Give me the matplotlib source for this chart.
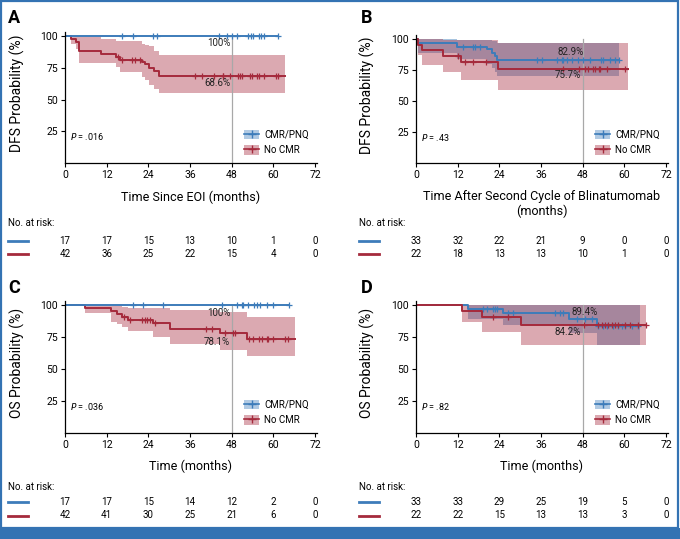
import matplotlib
matplotlib.use("Agg")
import matplotlib.pyplot as plt
from matplotlib.patches import Patch, Rectangle
from matplotlib.lines import Line2D
from matplotlib.transforms import blended_transform_factory
from matplotlib import font_manager

# ---------------------------------------------------------------- police
names = {f.name for f in font_manager.fontManager.ttflist}
main_font = "Liberation Sans Narrow" if "Liberation Sans Narrow" in names else "Roboto"
plt.rcParams["font.family"] = [main_font, "DejaVu Sans"]

BLUE = "#3d7cba"
RED = "#a52a3c"
FRAME = "#3473b3"

# ---------------------------------------------------------------- données
risk_times = [0, 12, 24, 36, 48, 60, 72]

# A : DFS depuis EOI
a_blue_t = [0, 61.4]
a_blue_s = [100, 100]
a_blue_c = [16.3, 19.5, 25.3, 26.4, 44.4, 46.6, 48.0, 49.4, 52.8, 53.5, 54.2, 56.0, 56.4, 57.3, 61.4]
a_red_t = [0, 1.7, 3.1, 4.0, 10.3, 14.7, 15.8, 22.1, 23.1, 24.3, 25.7, 27.1, 63.4]
a_red_s = [100, 97.6, 95.2, 88.1, 85.7, 83.3, 81.0, 79.3, 77.6, 75.2, 72.4, 68.6, 68.6]
a_red_hi = [100, 100, 100, 99, 98, 95.8, 95.8, 94, 93, 91.9, 88.4, 85.3, 85.3]
a_red_lo = [100, 94, 90, 79, 79, 75.8, 72, 68, 65.4, 61.5, 58.5, 55.5, 55.5]
a_red_c = [15.2, 16.4, 19.2, 20.2, 21.6, 37.4, 39.4, 42.9, 45.4, 45.6, 47.5, 49.9, 50.4, 50.9,
           53.3, 54.0, 55.4, 55.8, 57.4, 60.8, 61.4]
a_risk_blue = [17, 17, 15, 13, 10, 1, 0]
a_risk_red = [42, 36, 25, 22, 15, 4, 0]

# B : DFS après le 2e cycle
b_blue_t = [0, 0.5, 11.7, 20.4, 21.8, 22.8, 23.4, 58.6]
b_blue_s = [100, 97.0, 93.9, 91.7, 89.0, 86.3, 82.9, 82.9]
b_blue_hi = [100, 100, 99.5, 99, 98.5, 98, 97, 97]
b_blue_lo = [100, 89, 84, 80, 77, 73.5, 70, 70]
b_blue_c = [13.6, 16.5, 17.0, 18.4, 34.8, 36.2, 40.5, 42.0, 42.4, 43.4, 45.0, 46.7, 48.2,
            50.1, 53.2, 53.9, 55.9, 57.3, 58.6]
b_red_t = [0, 0.6, 1.6, 7.7, 12.9, 23.7, 61.2]
b_red_s = [100, 95.5, 90.9, 86.4, 81.8, 75.7, 75.7]
b_red_hi = [100, 100, 100, 99.5, 99, 97, 97]
b_red_lo = [100, 87, 79, 73.5, 67, 59, 59]
b_red_c = [12.1, 14.1, 16.5, 20.2, 42.2, 47.0, 48.7, 49.6, 50.9, 51.6, 52.7, 53.0, 54.9, 60.2]
b_risk_blue = [33, 32, 22, 21, 9, 0, 0]
b_risk_red = [22, 18, 13, 13, 10, 1, 0]

# C : OS
c_blue_t = [0, 64.6]
c_blue_s = [100, 100]
c_blue_c = [19.5, 22.6, 28.3, 45.1, 49.4, 50.9, 51.4, 52.8, 54.5, 55.2, 56.2, 58.1, 60.0, 64.6]
c_red_t = [0, 5.8, 13.2, 14.9, 16.3, 18.2, 25.4, 30.2, 44.6, 52.3, 66.2]
c_red_s = [100, 97.6, 95.2, 92.9, 90.5, 88.1, 85.6, 81.4, 78.1, 73.1, 73.1]
c_red_hi = [100, 100, 99, 99, 98.5, 98, 97.6, 96, 94.5, 90.5, 90.5]
c_red_lo = [100, 94, 87, 85, 82.7, 79.4, 74.8, 69.5, 65, 59.9, 59.9]
c_red_c = [17.1, 18.6, 22.1, 23.0, 23.7, 24.5, 25.9, 40.5, 42.2, 46.1, 48.5, 49.0, 53.0, 54.2,
           55.9, 56.8, 58.1, 58.6, 60.0, 63.4, 64.3]
c_risk_blue = [17, 17, 15, 14, 12, 2, 0]
c_risk_red = [42, 41, 30, 25, 21, 6, 0]

# D : OS après le 2e cycle
d_blue_t = [0, 15.1, 25.2, 44.2, 52.0, 64.5]
d_blue_s = [100, 97.0, 93.9, 89.4, 83.3, 83.3]
d_blue_hi = [100, 100, 100, 100, 100, 100]
d_blue_lo = [100, 89, 84.5, 78, 68.5, 68.5]
d_blue_c = [19.4, 20.4, 22.1, 22.8, 23.4, 26.6, 28.0, 40.0, 41.5, 42.4, 46.3, 48.7, 50.6,
            52.5, 53.9, 54.9, 56.8, 58.3, 59.2, 60.2, 62.1, 64.0]
d_red_t = [0, 13.2, 18.9, 30.2, 66.2]
d_red_s = [100, 95.5, 90.9, 84.2, 84.2]
d_red_hi = [100, 100, 100, 100, 100]
d_red_lo = [100, 87, 79, 68.7, 68.7]
d_red_c = [22.3, 26.6, 48.5, 52.5, 53.5, 54.4, 55.4, 56.4, 57.3, 58.3, 60.2, 61.6, 64.0, 66.2]
d_risk_blue = [33, 33, 29, 25, 19, 5, 0]
d_risk_red = [22, 22, 15, 13, 13, 3, 0]

# ---------------------------------------------------------------- figure
W, H = 680, 539
fig = plt.figure(figsize=(W / 100, H / 100), dpi=100)


def px_axes(left, top, right, bottom):
    return fig.add_axes([left / W, 1 - bottom / H, (right - left) / W, (bottom - top) / H])


def level_at(t, s, x):
    val = s[0]
    for ti, si in zip(t, s):
        if ti <= x:
            val = si
    return val


def km(ax, t, s, color, cens, hi=None, lo=None, alpha=0.4):
    if hi is not None:
        ax.fill_between(t, lo, hi, step="post", color=color, alpha=alpha, lw=0)
    ax.step(t, s, where="post", color=color, lw=1.4)
    ax.plot(cens, [level_at(t, s, c) for c in cens], ls="none", marker="+",
            color=color, ms=5, mew=0.9)


def panel(ax, letter, letter_xy, ylabel, xlabel, pval, notes, rb, rr, y_rows, xlab_y, ylab_x):
    ax.set_xlim(0, 72.5)
    ax.set_ylim(0, 103)
    ax.set_xticks(risk_times)
    ax.set_yticks([25, 50, 75, 100])
    ax.tick_params(labelsize=7.5, length=3, width=0.8, pad=2)
    for sp in ["top", "right"]:
        ax.spines[sp].set_visible(False)
    ax.spines["left"].set_linewidth(0.9)
    ax.spines["bottom"].set_linewidth(0.9)
    ax.plot([48, 48], [0, 100], color="#a8a8a8", lw=0.9, zorder=1)
    ax.set_ylabel(ylabel, fontsize=10)
    ax.yaxis.set_label_coords(ylab_x, 0.53)
    ax.set_xlabel(xlabel, fontsize=9, linespacing=1.15)
    ax.xaxis.set_label_coords(0.5, xlab_y)
    ax.text(1.4, 20.5, r"$\it{P}$ = " + pval, fontsize=6.5, va="center")
    for x, y, txt, ha in notes:
        ax.text(x, y, txt, fontsize=7, ha=ha, va="center", color="#222222")
    handles = [(Patch(facecolor=BLUE, alpha=0.4, lw=0),
                Line2D([], [], color=BLUE, marker="+", ms=6, lw=1.2)),
               (Patch(facecolor=RED, alpha=0.4, lw=0),
                Line2D([], [], color=RED, marker="+", ms=6, lw=1.2))]
    ax.legend(handles, ["CMR/PNQ", "No CMR"], loc="lower right", bbox_to_anchor=(1.0, 0.0),
              frameon=False, fontsize=7, handlelength=1.6, handleheight=1.1,
              labelspacing=0.55, handletextpad=0.5, borderpad=0.3)
    fig.text(letter_xy[0] / W, 1 - letter_xy[1] / H, letter, fontsize=13,
             fontweight="bold", va="center", ha="left")
    # tableau des effectifs
    tr = blended_transform_factory(ax.transData, fig.transFigure)
    x0 = ax.get_position().x0 * W
    fig.text((x0 - 57) / W, 1 - y_rows[0] / H, "No. at risk:", fontsize=7, va="center")
    for vals, col, yy in [(rb, BLUE, y_rows[1]), (rr, RED, y_rows[2])]:
        fig.add_artist(Line2D([(x0 - 57) / W, (x0 - 37) / W], [1 - yy / H] * 2,
                              color=col, lw=2))
        for t, v in zip(risk_times, vals):
            ax.text(t, 1 - yy / H, str(v), transform=tr, fontsize=7, ha="center",
                    va="center", clip_on=False)


# A
ax_a = px_axes(65, 32.2, 316.7, 163)
km(ax_a, a_red_t, a_red_s, RED, a_red_c, a_red_hi, a_red_lo)
km(ax_a, a_blue_t, a_blue_s, BLUE, a_blue_c)
panel(ax_a, "A", (8, 18), "DFS Probability (%)", "Time Since EOI (months)", ".016",
      [(47.6, 94.2, "100%", "right"), (47.6, 62.7, "68.6%", "right")],
      a_risk_blue, a_risk_red, [223, 241, 254], -0.21, -0.158)

# B
ax_b = px_axes(416, 35.3, 667.7, 163)
km(ax_b, b_blue_t, b_blue_s, BLUE, b_blue_c, b_blue_hi, b_blue_lo, alpha=0.45)
km(ax_b, b_red_t, b_red_s, RED, b_red_c, b_red_hi, b_red_lo)
panel(ax_b, "B", (361, 18), "DFS Probability (%)",
      "Time After Second Cycle of Blinatumomab\n(months)",
      ".43", [(48.2, 89.3, "82.9%", "right"), (47.6, 70.9, "75.7%", "right")],
      b_risk_blue, b_risk_red, [223, 241, 254], -0.215, -0.162)

# C
ax_c = px_axes(65, 301.2, 316.7, 433)
km(ax_c, c_red_t, c_red_s, RED, c_red_c, c_red_hi, c_red_lo)
km(ax_c, c_blue_t, c_blue_s, BLUE, c_blue_c)
panel(ax_c, "C", (8, 288), "OS Probability (%)", "Time (months)", ".036",
      [(47.6, 94.0, "100%", "right"), (47.6, 71.3, "78.1%", "right")],
      c_risk_blue, c_risk_red, [487, 502, 515.5], -0.2, -0.158)

# D
ax_d = px_axes(416, 301.2, 667.7, 433)
km(ax_d, d_blue_t, d_blue_s, BLUE, d_blue_c, d_blue_hi, d_blue_lo, alpha=0.45)
km(ax_d, d_red_t, d_red_s, RED, d_red_c, d_red_hi, d_red_lo)
panel(ax_d, "D", (361, 288), "OS Probability (%)", "Time (months)", ".82",
      [(48.7, 94.3, "89.4%", "center"), (47.6, 78.7, "84.2%", "right")],
      d_risk_blue, d_risk_red, [487, 502, 515.5], -0.2, -0.162)

# cadre bleu + bandeau du bas
fig.add_artist(Rectangle((0.001, 0.02), 0.996, 0.978, transform=fig.transFigure,
                         fill=False, edgecolor=FRAME, lw=1.6))
fig.add_artist(Rectangle((0, 0), 1, 11 / H, transform=fig.transFigure,
                         facecolor=FRAME, edgecolor="none"))

fig.savefig("out.png", dpi=100)
